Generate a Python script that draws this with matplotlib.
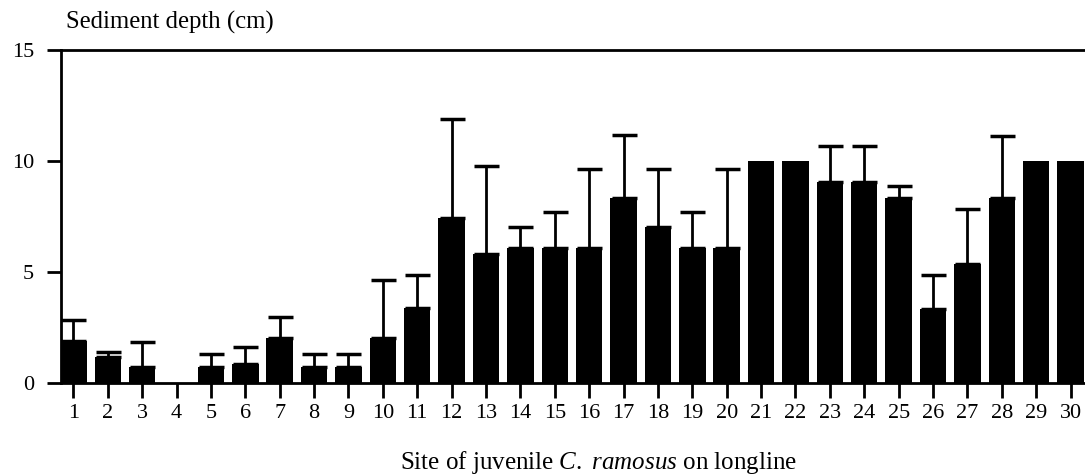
import matplotlib
matplotlib.use("Agg")
import matplotlib.pyplot as plt
import numpy as np

sites = [str(i) for i in range(1, 31)]
mean_depth = [1.9, 1.2, 0.75, 0.0, 0.75, 0.85, 2.05, 0.75, 0.75, 2.05,
              3.4, 7.45, 5.8, 6.1, 6.1, 6.1, 8.35, 7.05, 6.1, 6.1,
              10.0, 10.0, 9.05, 9.05, 8.35, 3.35, 5.35, 8.35, 10.0, 10.0]
sd_depth = [0.95, 0.22, 1.12, 0.0, 0.55, 0.8, 0.92, 0.55, 0.55, 2.6,
            1.48, 4.44, 3.96, 0.93, 1.63, 3.54, 2.83, 2.59, 1.63, 3.54,
            0.0, 0.0, 1.64, 1.64, 0.54, 1.53, 2.49, 2.79, 0.0, 0.0]
yticks = [0, 5, 10, 15]

plt.rcParams['font.family'] = ['Liberation Serif', 'DejaVu Serif']
plt.rcParams['mathtext.fontset'] = 'custom'
plt.rcParams['mathtext.rm'] = 'Liberation Serif'
plt.rcParams['mathtext.it'] = 'Liberation Serif:italic'

fig = plt.figure(figsize=(10.85, 4.75), dpi=100)
ax = fig.add_axes([0.0559, 0.193, 0.9441, 0.7017])

x = np.arange(1, len(sites) + 1)
ax.bar(x, mean_depth, width=0.77, color='black', zorder=2)
m = np.array(sd_depth) > 0
ax.errorbar(x[m], np.array(mean_depth)[m],
            yerr=[np.zeros(m.sum()), np.array(sd_depth)[m]],
            fmt='none', ecolor='black', elinewidth=2.0, capsize=9,
            capthick=2.5, zorder=1)

ax.set_xlim(0.63, 30.42)
ax.set_ylim(0, 15)
ax.set_xticks(x)
ax.set_xticklabels(sites, fontsize=16)
ax.set_yticks(yticks)
ax.set_yticklabels([str(v) for v in yticks], fontsize=16)
ax.tick_params(axis='x', length=11, width=2, direction='out', pad=4)
ax.tick_params(axis='y', length=10, width=2, direction='out', pad=9)
for s in ['left', 'bottom', 'top']:
    ax.spines[s].set_linewidth(2)
ax.spines['right'].set_visible(False)

ax.set_xlabel('Site of juvenile $\\mathit{C.\\ ramosus}$ on longline',
              fontsize=18, va='center')
ax.xaxis.set_label_coords(0.5246, -0.239)
fig.text(0.061, 0.953, 'Sediment depth (cm)', fontsize=17.8, ha='left', va='center')

fig.savefig('out.png', dpi=100)
